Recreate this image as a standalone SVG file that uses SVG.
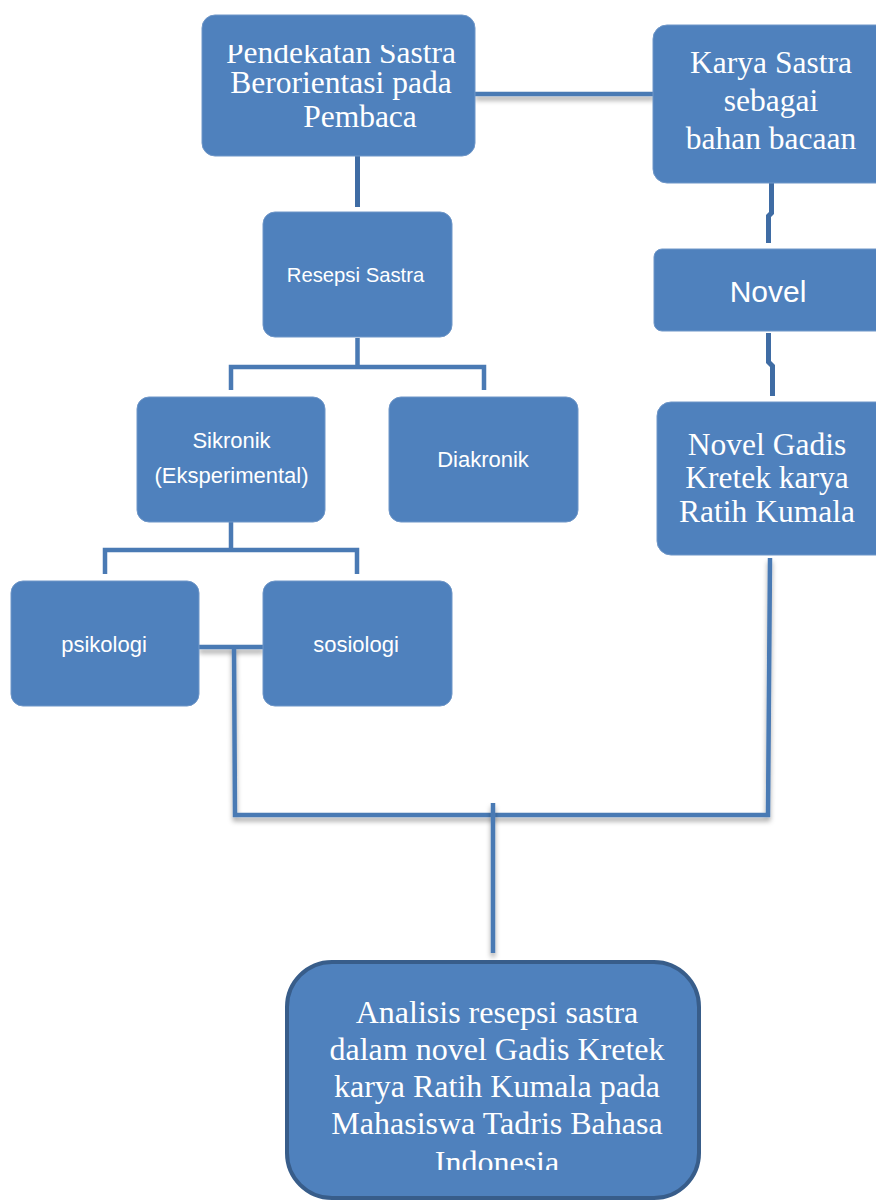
<svg xmlns="http://www.w3.org/2000/svg" width="876" height="1202" viewBox="0 0 876 1202">
<defs>
<style>
.box{fill:#4f81bd;stroke:#6e96c8;stroke-width:1}
.serif{font-family:"Liberation Serif","Times New Roman",serif;font-size:31.5px;fill:#fff;text-anchor:middle}
.sans{font-family:"Liberation Sans",Arial,sans-serif;font-size:22px;fill:#fff;text-anchor:middle}
.ln{fill:none;stroke:#4a7ab4;stroke-width:4.5}
.dk{fill:none;stroke:#3f6ca4;stroke-width:5}
</style>
<filter id="sh" filterUnits="userSpaceOnUse" x="0" y="0" width="876" height="1202">
<feDropShadow dx="0" dy="4" stdDeviation="2.5" flood-color="#000" flood-opacity="0.35"/>
</filter>
<clipPath id="c1"><rect x="202" y="45" width="273" height="111"/></clipPath>
<clipPath id="c9"><rect x="287" y="962" width="412" height="208"/></clipPath>
</defs>
<rect width="876" height="1202" fill="#fff"/>
<g id="connectors">
<path class="ln" d="M475 94H655" filter="url(#sh)"/>
<path class="dk" d="M357.5 156V207"/>
<path class="dk" d="M771.5 183V213L768.5 216V243"/>
<path class="dk" d="M768.5 333V362L772.5 366V396"/>
<path class="ln" d="M357.5 338V367M231 390V367H484V390"/>
<path class="ln" d="M231 522V550M105 574V550H357V574"/>
<path class="ln" d="M199 647H264" filter="url(#sh)"/>
<path class="ln" d="M234 647L235 815H768L770 558" filter="url(#sh)"/>
<path class="ln" d="M493 803V953" filter="url(#sh)"/>
</g>
<g id="n1">
<rect class="box" x="202" y="15" width="273" height="141" rx="13"/>
<g clip-path="url(#c1)">
<text class="serif" x="341" y="63">Pendekatan Sastra</text>
</g>
<text class="serif" x="341" y="93">Berorientasi pada</text>
<text class="serif" x="360" y="127">Pembaca</text>
</g>
<g id="n2">
<rect class="box" x="653" y="25" width="240" height="158" rx="14"/>
<text class="serif" x="771" y="73">Karya Sastra</text>
<text class="serif" x="771" y="111">sebagai</text>
<text class="serif" x="771" y="149">bahan bacaan</text>
</g>
<g id="n3">
<rect class="box" x="654" y="249" width="240" height="82" rx="8"/>
<text class="sans" x="768" y="302" style="font-size:30px">Novel</text>
</g>
<g id="n4">
<rect class="box" x="657" y="402" width="240" height="153" rx="14"/>
<text class="serif" x="767" y="455">Novel Gadis</text>
<text class="serif" x="767" y="488">Kretek karya</text>
<text class="serif" x="767" y="522">Ratih Kumala</text>
</g>
<g id="n5">
<rect class="box" x="263" y="212" width="189" height="125" rx="12"/>
<text class="sans" x="355.5" y="282" style="font-size:20.3px">Resepsi Sastra</text>
</g>
<g id="n6">
<rect class="box" x="137" y="397" width="188" height="125" rx="12"/>
<text class="sans" x="231.5" y="448">Sikronik</text>
<text class="sans" x="231.5" y="483">(Eksperimental)</text>
</g>
<g id="n7">
<rect class="box" x="389" y="397" width="189" height="125" rx="12"/>
<text class="sans" x="483" y="467">Diakronik</text>
</g>
<g id="n8">
<rect class="box" x="11" y="581" width="188" height="125" rx="12"/>
<text class="sans" x="104" y="652">psikologi</text>
</g>
<g id="n9">
<rect class="box" x="263" y="581" width="189" height="125" rx="12"/>
<text class="sans" x="356" y="652">sosiologi</text>
</g>
<g id="n10">
<rect x="287" y="962" width="412" height="236" rx="45" fill="#4f81bd" stroke="#385d8a" stroke-width="4"/>
<g clip-path="url(#c9)">
<text class="serif" x="497" y="1023" style="font-size:32px">Analisis resepsi sastra</text>
<text class="serif" x="497" y="1060" style="font-size:32px">dalam novel Gadis Kretek</text>
<text class="serif" x="497" y="1097" style="font-size:32px">karya Ratih Kumala pada</text>
<text class="serif" x="497" y="1134" style="font-size:32px">Mahasiswa Tadris Bahasa</text>
<text class="serif" x="497" y="1173" style="font-size:32px">Indonesia</text>
</g>
</g>
</svg>
